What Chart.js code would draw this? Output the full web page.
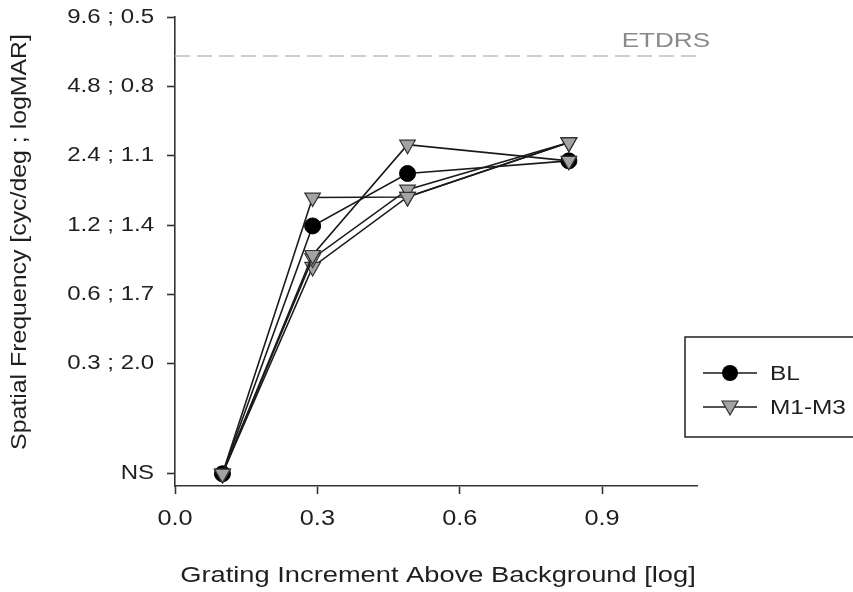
<!DOCTYPE html>
<html>
<head>
<meta charset="utf-8">
<script src="https://cdn.jsdelivr.net/npm/chart.js@4.4.0/dist/chart.umd.min.js"></script>
<style>
  html, body { margin: 0; padding: 0; background: #fff; }
  #wrap { width: 853px; height: 592px; }
</style>
</head>
<body>
<div id="wrap"><canvas id="chart-lines"></canvas></div>
<script>
// grating increment (log) of each measured point
var xValues = [0.1, 0.29, 0.49, 0.83];

// spatial frequency in cyc/deg, NS plotted at 0.1
var blValues = [0.1, 1.19, 2.01, 2.28];
var m1Values = [0.1, 1.58, 1.59, 2.74];
var m2Values = [0.1, 0.89, 2.68, 2.28];
var m3Values = [0.1, 0.86, 1.71, 2.74];
var m4Values = [0.1, 0.79, 1.59, 2.74];

var xTicks = [0.0, 0.3, 0.6, 0.9];
var xTickLabels = ["0.0", "0.3", "0.6", "0.9"];
var yTicks = [0.1, 0.3, 0.6, 1.2, 2.4, 4.8, 9.6];
var yTickLabels = ["NS", "0.3 ; 2.0", "0.6 ; 1.7", "1.2 ; 1.4", "2.4 ; 1.1", "4.8 ; 0.8", "9.6 ; 0.5"];
var etdrsLevel = 6.5;

var FONT = "'Liberation Sans', Arial, sans-serif";
var LINE = "#1a1a1a";
var TEXT = "#1f1f1f";
var TRI_FILL = "#a3a3a3";

function pts(ys) {
  return xValues.map(function (x, i) { return { x: x, y: ys[i] }; });
}

function triSet(label, ys) {
  return {
    label: label,
    data: pts(ys),
    borderColor: LINE,
    borderWidth: 1.6,
    tension: 0,
    pointStyle: "triangle",
    rotation: 180,
    pointRadius: 9,
    pointBackgroundColor: TRI_FILL,
    pointBorderColor: "#333",
    pointBorderWidth: 1.2
  };
}

// the lettering of the figure is wide, so text is drawn stretched sideways
function wideText(ctx, text, x, y, o) {
  ctx.save();
  ctx.translate(x, y);
  if (o.rotate) ctx.rotate(o.rotate);
  ctx.scale(o.sx, 1);
  ctx.font = o.size + "px " + FONT;
  ctx.textAlign = o.align || "center";
  ctx.textBaseline = o.baseline || "middle";
  ctx.fillStyle = o.color || TEXT;
  ctx.fillText(text, 0, 0);
  ctx.restore();
}

var extras = {
  id: "extras",
  afterDraw: function (chart) {
    var ctx = chart.ctx;
    var area = chart.chartArea;
    var xs = chart.scales.x;
    var ys = chart.scales.y;

    // tick labels
    xTicks.forEach(function (v, i) {
      wideText(ctx, xTickLabels[i], xs.getPixelForValue(v), 519, { size: 22, sx: 1.15 });
    });
    yTicks.forEach(function (v, i) {
      wideText(ctx, yTickLabels[i], 154, ys.getPixelForValue(v), { size: 20, sx: 1.2, align: "right" });
    });

    // axis titles
    wideText(ctx, "Grating Increment Above Background [log]", (area.left + area.right) / 2 + 2, 576, { size: 22, sx: 1.24 });
    wideText(ctx, "Spatial Frequency [cyc/deg ; logMAR]", 20, 242, { size: 22, sx: 1.13, rotate: -Math.PI / 2 });

    // ETDRS dashed reference line
    var yPix = ys.getPixelForValue(etdrsLevel);
    ctx.save();
    ctx.strokeStyle = "#bdbdbd";
    ctx.lineWidth = 1.5;
    ctx.setLineDash([15, 7]);
    ctx.beginPath();
    ctx.moveTo(area.left, yPix);
    ctx.lineTo(area.right, yPix);
    ctx.stroke();
    ctx.restore();
    wideText(ctx, "ETDRS", 710, 47, { size: 21, sx: 1.24, align: "right", baseline: "alphabetic", color: "#8a8a8a" });

    // legend
    ctx.save();
    ctx.strokeStyle = "#222";
    ctx.lineWidth = 1.5;
    ctx.strokeRect(685, 337, 200, 100);

    ctx.strokeStyle = LINE;
    ctx.beginPath();
    ctx.moveTo(703, 373); ctx.lineTo(757, 373);
    ctx.moveTo(703, 407); ctx.lineTo(757, 407);
    ctx.stroke();

    ctx.beginPath();
    ctx.arc(730, 373, 8, 0, Math.PI * 2);
    ctx.fillStyle = "#000";
    ctx.fill();

    ctx.beginPath();
    ctx.moveTo(730, 415);
    ctx.lineTo(722, 401);
    ctx.lineTo(738, 401);
    ctx.closePath();
    ctx.fillStyle = TRI_FILL;
    ctx.fill();
    ctx.strokeStyle = "#333";
    ctx.lineWidth = 1.2;
    ctx.stroke();
    ctx.restore();

    wideText(ctx, "BL", 770, 374, { size: 20, sx: 1.22, align: "left" });
    wideText(ctx, "M1-M3", 770, 408, { size: 20, sx: 1.22, align: "left" });
  }
};

var ctx = document.getElementById("chart-lines").getContext("2d");

new Chart(ctx, {
  type: "line",
  data: {
    datasets: [
      triSet("M1-M3", m1Values),
      triSet("M1-M3 b", m2Values),
      triSet("M1-M3 c", m3Values),
      triSet("M1-M3 d", m4Values),
      {
        label: "BL",
        data: pts(blValues),
        borderColor: LINE,
        borderWidth: 1.6,
        tension: 0,
        pointStyle: "circle",
        pointRadius: 8,
        pointBackgroundColor: "#000",
        pointBorderColor: "#000",
        pointBorderWidth: 1
      }
    ]
  },
  options: {
    responsive: true,
    maintainAspectRatio: false,
    animation: false,
    layout: {
      padding: { top: 17, right: 156, bottom: 0, left: 0 }
    },
    plugins: {
      legend: { display: false },
      tooltip: { enabled: false }
    },
    scales: {
      x: {
        type: "linear",
        min: 0,
        max: 1.1,
        afterBuildTicks: function (scale) {
          scale.ticks = xTicks.map(function (v) { return { value: v }; });
        },
        afterFit: function (scale) { scale.height = 106; },
        border: { display: true, color: "#333", width: 1.6 },
        grid: { display: true, drawOnChartArea: false, drawTicks: true, tickLength: 8, tickColor: "#333", tickWidth: 1.6 },
        ticks: { display: false }
      },
      y: {
        type: "logarithmic",
        min: 0.0885,
        max: 9.6,
        bounds: "data",
        afterBuildTicks: function (scale) {
          scale.ticks = yTicks.map(function (v) { return { value: v }; });
        },
        afterFit: function (scale) { scale.width = 175; },
        border: { display: true, color: "#333", width: 1.6 },
        grid: { display: true, drawOnChartArea: false, drawTicks: true, tickLength: 8, tickColor: "#333", tickWidth: 1.6 },
        ticks: { display: false }
      }
    }
  },
  plugins: [extras]
});
</script>
</body>
</html>
